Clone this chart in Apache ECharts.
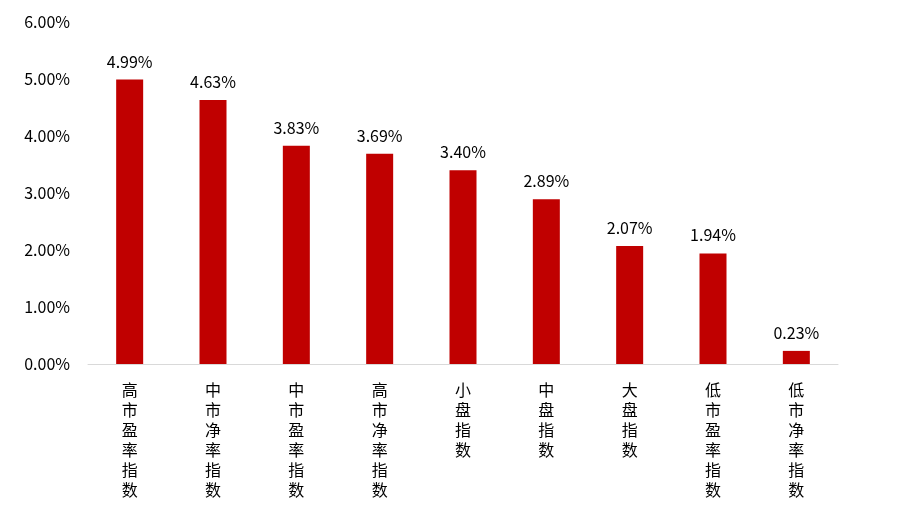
<!DOCTYPE html>
<html><head><meta charset="utf-8">
<script src="https://cdn.jsdelivr.net/npm/echarts@6/dist/echarts.min.js"></script>
<style>html,body{margin:0;padding:0;background:#fff}#c{width:918px;height:516px}</style>
</head><body><div id="c"></div>
<script>
const categories = ['高市盈率指数','中市净率指数','中市盈率指数','高市净率指数','小盘指数','中盘指数','大盘指数','低市盈率指数','低市净率指数'];
const values = [4.99, 4.63, 3.83, 3.69, 3.40, 2.89, 2.07, 1.94, 0.23];
const font = '"Noto Sans CJK SC", "Noto Sans", sans-serif';
const chart = echarts.init(document.getElementById('c'));
chart.setOption({
  animation: false,
  grid: {left: 88, right: 80, top: 22, bottom: 152},
  xAxis: {
    type: 'category', data: categories,
    axisLine: {lineStyle: {color: '#d9d9d9'}},
    axisTick: {show: false},
    axisLabel: {
      interval: 0, color: '#000', fontSize: 16, fontFamily: font, lineHeight: 20, margin: 16,
      formatter: v => v.split('').join('\n')
    }
  },
  yAxis: {
    type: 'value', min: 0, max: 6, interval: 1,
    splitLine: {show: false}, axisLine: {show: false}, axisTick: {show: false},
    axisLabel: {color: '#000', fontSize: 16, fontFamily: font, margin: 18, formatter: v => v.toFixed(2) + '%'}
  },
  series: [{
    type: 'bar', data: values, barWidth: 27,
    itemStyle: {color: '#c00000'},
    label: {show: true, position: 'top', distance: 10, color: '#000', fontSize: 16, fontFamily: font,
      formatter: p => p.value.toFixed(2) + '%'}
  }]
});
</script></body></html>
